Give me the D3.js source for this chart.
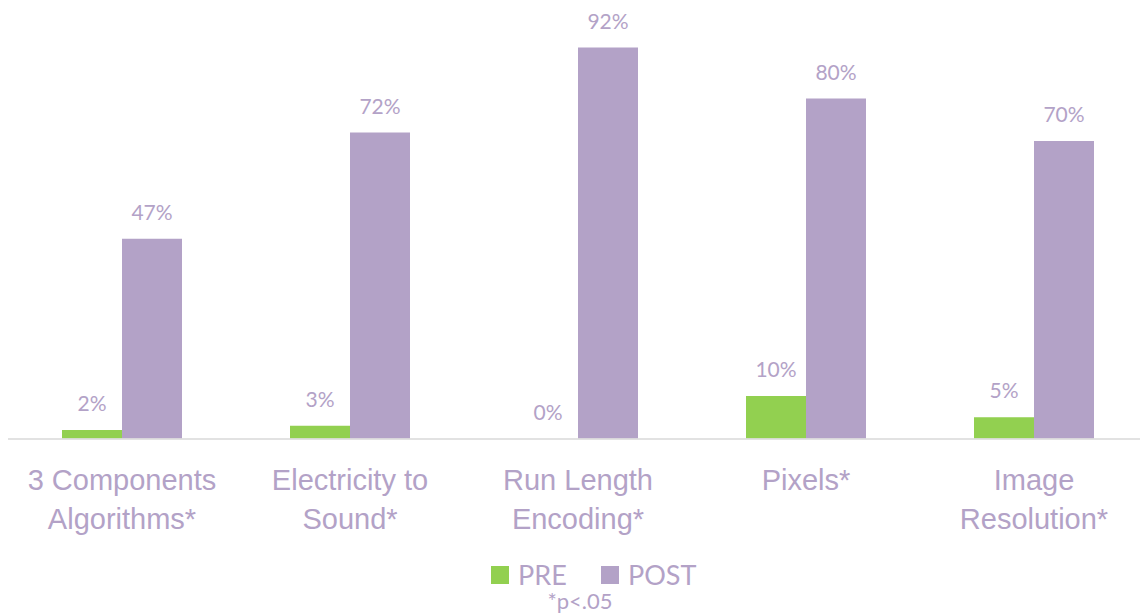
<!DOCTYPE html>
<html>
<head>
<meta charset="utf-8">
<script src="https://cdn.jsdelivr.net/npm/d3@7"></script>
<style>
  html, body { margin: 0; padding: 0; background: #fff; }
  svg { display: block; font-family: Lato, "Open Sans", sans-serif; }
</style>
</head>
<body>
<svg id="chart" width="1140" height="615"></svg>
<script>
// Topics covered, with two-line axis labels
const categories = [
  ["3 Components", "Algorithms*"],
  ["Electricity to", "Sound*"],
  ["Run Length", "Encoding*"],
  ["Pixels*"],
  ["Image", "Resolution*"]
];
const seriesNames = ["PRE", "POST"];
const preValues = [2, 3, 0, 10, 5];
const postValues = [47, 72, 92, 80, 70];
const footnote = "*p<.05";

const colors = { PRE: "#92d050", POST: "#b3a2c7" };
const textColor = "#b3a2c7";

const svg = d3.select("#chart");
const baseline = 438.5;

const keys = categories.map((c, i) => i);
const x0 = d3.scaleBand().domain(keys).range([8, 1148]).paddingInner(0).paddingOuter(0);
const x1 = d3.scaleBand().domain(seriesNames).range([0, x0.bandwidth()])
  .paddingInner(0).paddingOuter(0.9);
const y = d3.scaleLinear().domain([0, 100]).range([baseline, 13.5]);

const rows = keys.map(i => ({ i, PRE: preValues[i], POST: postValues[i] }));

// Bars
const groups = svg.append("g").selectAll("g").data(rows).join("g")
  .attr("transform", d => `translate(${x0(d.i)},0)`);

groups.selectAll("rect")
  .data(d => seriesNames.map(s => ({ s, v: d[s] })))
  .join("rect")
  .attr("x", d => x1(d.s))
  .attr("width", x1.bandwidth())
  .attr("y", d => y(d.v))
  .attr("height", d => y(0) - y(d.v))
  .attr("fill", d => colors[d.s]);

// Value labels
groups.selectAll("text.val")
  .data(d => seriesNames.map(s => ({ s, v: d[s] })))
  .join("text")
  .attr("class", "val")
  .attr("x", d => x1(d.s) + x1.bandwidth() / 2)
  .attr("y", d => y(d.v) - 19)
  .attr("text-anchor", "middle")
  .attr("font-size", 21)
  .attr("fill", textColor)
  .text(d => d.v + "%");

// Category axis
const xAxis = d3.axisBottom(x0).tickSize(0).tickFormat("");
const axisG = svg.append("g").attr("transform", `translate(0,${baseline + 0.5})`).call(xAxis);
axisG.select(".domain").attr("stroke", "#d9d9d9").attr("stroke-width", 1.5)
  .attr("d", "M8,0H1140");

axisG.selectAll(".tick").each(function(i) {
  const t = d3.select(this).append("text")
    .attr("fill", textColor)
    .attr("font-size", 29)
    .attr("text-anchor", "middle");
  categories[i].forEach((line, k) => {
    t.append("tspan").attr("x", 0).attr("y", 51 + k * 39).text(line);
  });
});

// Legend
const legend = svg.append("g").attr("transform", "translate(0,575)");
const legendItems = [
  { s: "PRE", x: 491 },
  { s: "POST", x: 601 }
];
legendItems.forEach(it => {
  legend.append("rect").attr("x", it.x).attr("y", -9).attr("width", 18).attr("height", 18)
    .attr("fill", colors[it.s]);
  legend.append("text").attr("x", it.x + 27).attr("y", 10)
    .attr("font-size", 27).attr("fill", textColor).text(it.s);
});

svg.append("text").attr("x", 580).attr("y", 609).attr("text-anchor", "middle")
  .attr("font-size", 22).attr("fill", textColor).text(footnote);
</script>
</body>
</html>
